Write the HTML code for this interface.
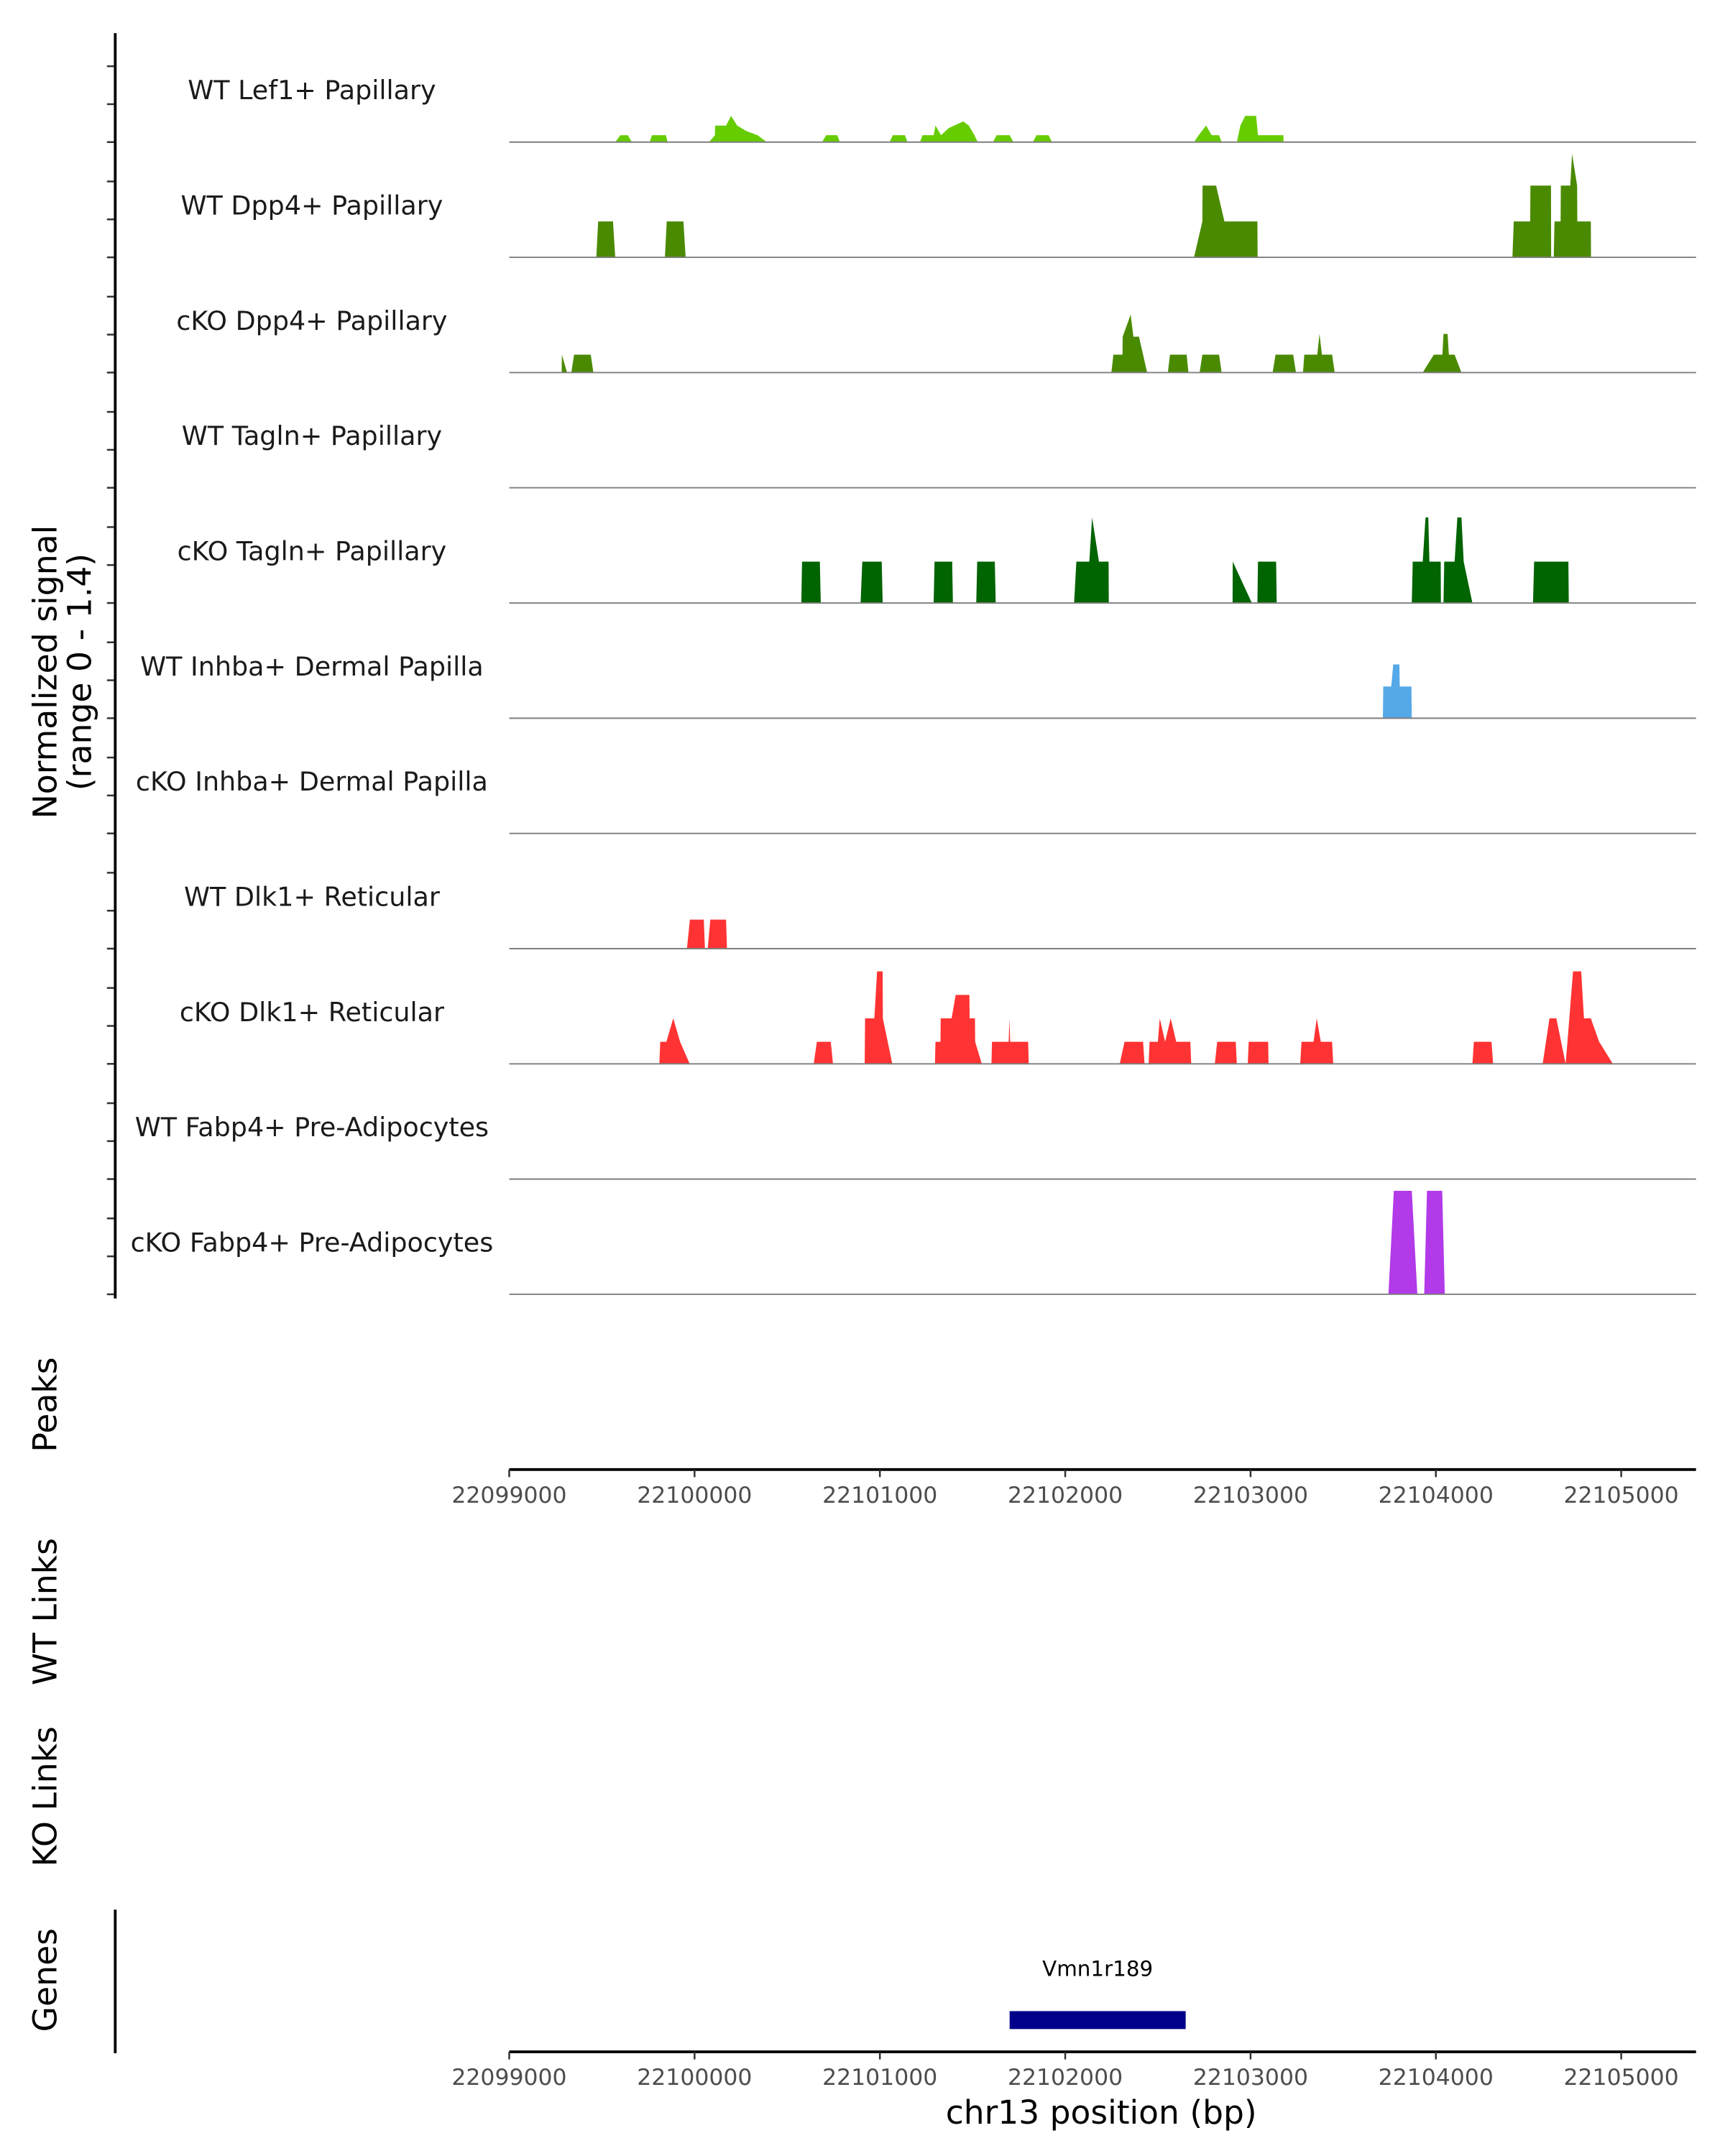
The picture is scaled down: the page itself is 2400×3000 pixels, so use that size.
<!DOCTYPE html>
<html><head><meta charset="utf-8"><style>
html,body{margin:0;padding:0;background:#fff}
svg{display:block}
text{font-family:"DejaVu Sans","Liberation Sans",sans-serif}
</style></head><body>
<svg id="chart" width="2400" height="3000" viewBox="0 0 1250 1562.5" xmlns="http://www.w3.org/2000/svg">
<rect width="1250" height="1562.5" fill="#fff"/>
<g id="tracks"></g>
<g id="axes"></g>
</svg>
<script>
const trackNames = ["WT Lef1+ Papillary","WT Dpp4+ Papillary","cKO Dpp4+ Papillary","WT Tagln+ Papillary","cKO Tagln+ Papillary","WT Inhba+ Dermal Papilla","cKO Inhba+ Dermal Papilla","WT Dlk1+ Reticular","cKO Dlk1+ Reticular","WT Fabp4+ Pre-Adipocytes","cKO Fabp4+ Pre-Adipocytes"];
const trackColors = ["#66cc00","#4a8a00","#4a8a00","#006400","#006400","#56a9e8","#56a9e8","#ff3333","#ff3333","#b23ae8","#b23ae8"];
const tickValues = [22099000,22100000,22101000,22102000,22103000,22104000,22105000];
const geneName = "Vmn1r189";
const geneStart = 22101700, geneEnd = 22102650;
const posLef1 = [572,600,640,662, 758,770,845,855, 1078,1110,1111,1170,1197,1230,1280,1340,1390, 1688,1710,1770,1784, 2052,2070,2135,2149, 2216,2230,2290,2300,2330,2370,2400,2450,2480,2510,2528, 2610,2630,2700,2721, 2825,2845,2910,2929, 3695,3720,3760,3790,3830,3844, 3926,3945,3971,4030,4040,4177,4178];
const valLef1 = [0,5,5,0, 0,5,5,0, 0,5,12,12,19,12,8,5,0, 0,5,5,0, 0,5,5,0, 0,5,5,12,5,10,12,15,12,5,0, 0,5,5,0, 0,5,5,0, 0,5,12,5,5,0, 0,12,19,19,5,5,0];
const posDpp4WT = [470,480,560,572, 840,850,940,952, 3695,3740,3741,3814,3859,4037,4038, 5413,5420,5509,5510,5621,5622, 5636,5640,5673,5674,5725,5735,5762,5763,5836,5837];
const valDpp4WT = [0,26,26,0, 0,26,26,0, 0,26,52,52,26,26,0, 0,26,26,52,52,0, 0,26,26,52,52,75,52,26,26,0];
const posDpp4KO = [283,284,312, 335,350,440,454, 3249,3260,3309,3310,3353,3368,3398,3442, 3554,3565,3655,3665, 3725,3740,3830,3844, 4119,4135,4230,4245, 4283,4290,4360,4372,4385,4440,4454, 4929,4989,5035,5041,5063,5070,5101,5138];
const valDpp4KO = [0,13,0, 0,13,13,0, 0,13,13,26,42,26,26,0, 0,13,13,0, 0,13,13,0, 0,13,13,0, 0,13,13,28,13,13,0, 0,13,13,28,28,13,13,0];
const posTaglnWT = [];
const valTaglnWT = [];
const posTaglnKO = [1576,1580,1676,1681, 1896,1905,2010,2015, 2290,2295,2390,2394, 2520,2525,2620,2625, 3048,3060,3130,3145,3182,3234,3235, 3903,3904,4007, 4037,4040,4138,4141, 4870,4875,4929,4944,4959,4965,5026,5027, 5041,5045,5101,5116,5138,5150,5197, 5524,5530,5715,5717];
const valTaglnKO = [0,30,30,0, 0,30,30,0, 0,30,30,0, 0,30,30,0, 0,30,30,62,30,30,0, 0,30,0, 0,30,30,0, 0,30,30,62,62,30,30,0, 0,30,30,62,62,30,0, 0,30,30,0];
const posInhbaWT = [4714,4716,4759,4770,4803,4805,4868,4870];
const valInhbaWT = [0,23,23,39,39,23,23,0];
const posInhbaKO = [];
const valInhbaKO = [];
const posDlk1WT = [959,975,1050,1056, 1071,1085,1170,1175];
const valDlk1WT = [0,21,21,0, 0,21,21,0];
const posDlk1KO = [810,815,848,885,922,974, 1643,1660,1735,1747, 1918,1920,1970,1985,2015,2016,2067, 2297,2300,2327,2328,2387,2409,2483,2484,2513,2514,2550, 2602,2605,2695,2699,2703,2800,2803, 3294,3320,3420,3428, 3450,3455,3500,3510,3539,3569,3599,3675,3680, 3807,3820,3920,3926, 3985,3990,4095,4097, 4268,4275,4340,4357,4379,4440,4446, 5197,5205,5300,5309, 5576,5613,5650,5700,5710,5740,5784,5799,5836,5881,5955];
const valDlk1KO = [0,16,16,33,16,0, 0,16,16,0, 0,33,33,67,67,33,0, 0,16,16,33,33,50,50,33,33,16,0, 0,16,16,33,16,16,0, 0,16,16,0, 0,16,16,33,16,33,16,16,0, 0,16,16,0, 0,16,16,0, 0,16,16,33,16,16,0, 0,16,16,0, 0,33,33,0,16,67,67,33,33,16,0];
const posFabp4WT = [];
const valFabp4WT = [];
const posFabp4KO = [4744,4773,4870,4900, 4937,4952,5034,5048];
const valFabp4KO = [0,75,75,0, 0,75,75,0];

const posArrays = [posLef1,posDpp4WT,posDpp4KO,posTaglnWT,posTaglnKO,posInhbaWT,posInhbaKO,posDlk1WT,posDlk1KO,posFabp4WT,posFabp4KO];
const valArrays = [valLef1,valDpp4WT,valDpp4KO,valTaglnWT,valTaglnKO,valInhbaWT,valInhbaKO,valDlk1WT,valDlk1KO,valFabp4WT,valFabp4KO];

const NS = "http://www.w3.org/2000/svg";
const X0 = 369, PXPERKB = 134.3, BP0 = 22099000;
const xScale = bp => X0 + (bp - BP0) / 1000 * PXPERKB;
const baseY = i => 103 + i * 83.5;
const yScale = (i, v) => baseY(i) - v;
function mk(tag, attrs, parent) { const e = document.createElementNS(NS, tag); for (const k in attrs) e.setAttribute(k, attrs[k]); parent.appendChild(e); return e; }

const tracks = document.getElementById("tracks");
const axes = document.getElementById("axes");

trackNames.forEach((name, i) => {
  const g = mk("g", {}, tracks);
  
  
  const pos = posArrays[i], val = valArrays[i];
  if (pos.length) {
    let d = "M" + xScale(BP0 + pos[0]).toFixed(2) + " " + baseY(i);
    for (let k = 0; k < pos.length; k++) d += " L" + xScale(BP0 + pos[k]).toFixed(2) + " " + yScale(i, val[k]).toFixed(2);
    d += " L" + xScale(BP0 + pos[pos.length - 1]).toFixed(2) + " " + baseY(i) + " Z";
    const p = mk("path", { d: d, fill: trackColors[i] }, g);
    
    
  }
  const ln = mk("line", { x1: 369, x2: 1229, y1: baseY(i), y2: baseY(i), stroke: "#7f7f7f", "stroke-width": 1 }, g);
  
  
  const t = mk("text", { x: 226, y: baseY(i) - 31, "text-anchor": "middle", "font-size": 19, fill: "#1a1a1a" }, g);
  t.textContent = name;
  
  
  for (let k = 0; k < 3; k++) {
    const tk = mk("line", { x1: 77.5, x2: 83, y1: baseY(i) - k * 27.5, y2: baseY(i) - k * 27.5, stroke: "#333", "stroke-width": 1.3 }, g);
    
    
  }
});

const yAxis = mk("line", { x1: 83.5, x2: 83.5, y1: 24, y2: 941, stroke: "#000", "stroke-width": 2 }, axes);



function rotLabel(txt, x, y, name) {
  const t = mk("text", { x: x, y: y, transform: `rotate(-90 ${x} ${y})`, "text-anchor": "middle", "font-size": 23.8, fill: "#000" }, axes);
  t.textContent = txt;
  
  
}
rotLabel("Normalized signal", 41, 487, "y-axis-title");
rotLabel("(range 0 - 1.4)", 66, 487, "y-axis-subtitle");
rotLabel("Peaks", 41, 1018, "peaks-label");
rotLabel("WT Links", 41, 1168, "wt-links-label");
rotLabel("KO Links", 41, 1302, "ko-links-label");
rotLabel("Genes", 41, 1435, "genes-label");

function xAxis(y, name) {
  const l = mk("line", { x1: 369, x2: 1229, y1: y, y2: y, stroke: "#000", "stroke-width": 2 }, axes);
  
  
  tickValues.forEach(v => {
    const tk = mk("line", { x1: xScale(v), x2: xScale(v), y1: y, y2: y + 5.5, stroke: "#333", "stroke-width": 1.3 }, axes);
    
    
    const t = mk("text", { x: xScale(v), y: y + 24, "text-anchor": "middle", "font-size": 16.4, fill: "#4d4d4d" }, axes);
    t.textContent = v;
    
    
  });
}
xAxis(1065, "peaks-x-axis");
xAxis(1487, "genes-x-axis");

const gAxis = mk("line", { x1: 83.5, x2: 83.5, y1: 1384, y2: 1488, stroke: "#000", "stroke-width": 2 }, axes);



const gene = mk("rect", { x: xScale(geneStart), y: 1457.5, width: xScale(geneEnd) - xScale(geneStart), height: 13, fill: "#00008b" }, axes);


const gl = mk("text", { x: (xScale(geneStart) + xScale(geneEnd)) / 2, y: 1432, "text-anchor": "middle", "font-size": 15.3, fill: "#000" }, axes);
gl.textContent = geneName;



const xt = mk("text", { x: 798, y: 1539, "text-anchor": "middle", "font-size": 23.7, fill: "#000" }, axes);
xt.textContent = "chr13 position (bp)";


</script>
</body></html>
